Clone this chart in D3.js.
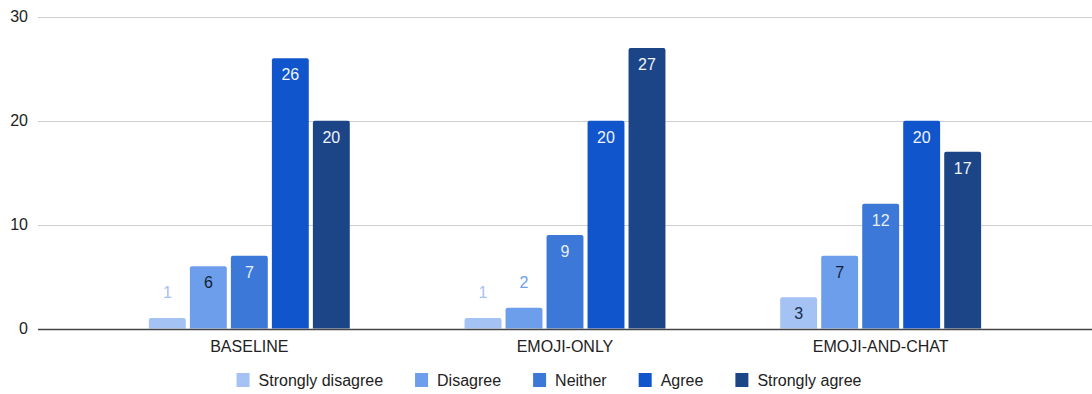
<!DOCTYPE html>
<html>
<head>
<meta charset="utf-8">
<script src="https://cdn.jsdelivr.net/npm/d3@7"></script>
<style>
  html, body { margin: 0; padding: 0; background: #fff; }
  svg { display: block; font-family: "Liberation Sans", Arial, sans-serif; }
</style>
</head>
<body>
<svg id="chart" width="1092" height="394"></svg>
<script>
// ---- data ----
const categories = ["BASELINE", "EMOJI-ONLY", "EMOJI-AND-CHAT"];
const series = ["Strongly disagree", "Disagree", "Neither", "Agree", "Strongly agree"];
const stronglyDisagree = [1, 1, 3];
const disagree = [6, 2, 7];
const neither = [7, 9, 12];
const agree = [26, 20, 20];
const stronglyAgree = [20, 27, 17];
const yTicks = [0, 10, 20, 30];

const values = [stronglyDisagree, disagree, neither, agree, stronglyAgree];
const colors = ["#a4c2f4", "#6d9eeb", "#3c78d8", "#1155cc", "#1c4587"];
const insideText = ["#1b2a4a", "#141e33", "#e8eefb", "#f0f4fc", "#f0f4fc"];

const svg = d3.select("#chart");
const W = 1092;

const y = d3.scaleLinear().domain([0, 30]).range([328.5, 16.7]);
const x0 = d3.scaleBand().domain(categories).range([91.5, 1038.5]).padding(0);
const groupW = 205;
const x1 = d3.scaleBand().domain(series).range([0, groupW]).paddingInner(0.1).paddingOuter(0.05);

// gridlines
svg.append("g").selectAll("line").data(yTicks.filter(d => d !== 0)).join("line")
  .attr("x1", 38).attr("x2", W)
  .attr("y1", d => Math.round(y(d)) + 0.5).attr("y2", d => Math.round(y(d)) + 0.5)
  .attr("stroke", "#cfcfcf").attr("stroke-width", 1);

// y tick labels
svg.append("g").selectAll("text").data(yTicks).join("text")
  .attr("x", 28).attr("y", d => y(d)).attr("dy", "0.35em")
  .attr("text-anchor", "end").attr("font-size", 16).attr("fill", "#222")
  .text(d => d);

// bars
function barPath(x, w, top, bottom, r) {
  const p = d3.path();
  p.moveTo(x, bottom);
  p.lineTo(x, top + r);
  p.quadraticCurveTo(x, top, x + r, top);
  p.lineTo(x + w - r, top);
  p.quadraticCurveTo(x + w, top, x + w, top + r);
  p.lineTo(x + w, bottom);
  p.closePath();
  return p.toString();
}

const barData = [];
categories.forEach((c, ci) => {
  series.forEach((s, si) => {
    barData.push({ c, s, si, v: values[si][ci] });
  });
});
const gx = d => x0(d.c) + x0.bandwidth() / 2 - groupW / 2 + x1(d.s);

svg.append("g").selectAll("path").data(barData).join("path")
  .attr("d", d => barPath(gx(d), x1.bandwidth(), y(d.v), y(0), 2))
  .attr("fill", d => colors[d.si]);

// value labels
svg.append("g").selectAll("text").data(barData).join("text")
  .attr("x", d => gx(d) + x1.bandwidth() / 2)
  .attr("y", d => {
    const h = y(0) - y(d.v);
    return h >= 27 ? y(d.v) + 22 : y(d.v) - 20;
  })
  .attr("text-anchor", "middle").attr("font-size", 16)
  .attr("fill", d => (y(0) - y(d.v) >= 27) ? insideText[d.si] : colors[d.si])
  .text(d => d.v);

// baseline axis
svg.append("line")
  .attr("x1", 38).attr("x2", W)
  .attr("y1", Math.round(y(0)) + 0.5).attr("y2", Math.round(y(0)) + 0.5)
  .attr("stroke", "#444").attr("stroke-width", 1.3);

// category labels
svg.append("g").selectAll("text").data(categories).join("text")
  .attr("x", d => x0(d) + x0.bandwidth() / 2).attr("y", 352)
  .attr("text-anchor", "middle").attr("font-size", 16).attr("fill", "#222")
  .text(d => d);

// legend
const leg = svg.append("g");
const items = leg.selectAll("g").data(series).join("g");
items.append("text").attr("font-size", 16).attr("fill", "#222")
  .attr("y", 380).attr("dy", "0.35em").text(d => d);
let cx = 0;
const pos = [];
const gap = 32;
items.each(function (d, i) {
  const tw = this.querySelector("text").getComputedTextLength();
  const sx = cx;
  pos.push({ sx, tx: sx + 22, tw });
  cx = sx + 22 + tw + gap;
});
const total = cx - gap;
const startX = 549 - total / 2;
items.each(function (d, i) {
  const g = d3.select(this);
  g.select("text").attr("x", startX + pos[i].tx);
  g.insert("rect", "text").attr("x", startX + pos[i].sx).attr("y", 373)
    .attr("width", 13).attr("height", 14).attr("fill", colors[i]);
});
</script>
</body>
</html>
